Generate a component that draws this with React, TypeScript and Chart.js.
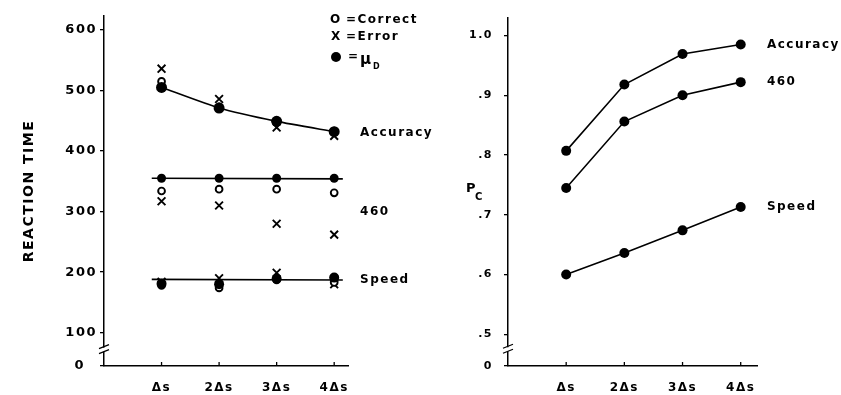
import React, { useEffect, useRef } from 'react';
import { Chart, registerables } from 'chart.js';
Chart.register(...registerables);

// ---------- data ----------
const categories = ['Δs', '2Δs', '3Δs', '4Δs'];
const xPositions = [1, 2, 3, 4];

// Left panel: reaction time (ms)
const rtTicks = [100, 200, 300, 400, 500, 600];
const rtBreakValue = 45; // axis origin, labelled "0"
const accMuD = [505, 471, 449, 432];
const accCorrect = [515, 473, 450, 433];
const accError = [536, 486, 439, 425];
const m460MuD = [355, 355, 355, 355];
const m460Correct = [334, 337, 337, 331];
const m460Error = [317, 310, 280, 262];
const speedMuD = [181, 180, 189, 191];
const speedCorrect = [178, 174, 187, 183];
const speedError = [184, 190, 199, 180];
const fitSpanX = [0.83, 4.15];
const m460Fit = [355, 354];
const speedFit = [188, 187];
const rtLabelValues = [430, 300, 188]; // Accuracy, 460, Speed

// Right panel: proportion correct
const pcTicks = [0.5, 0.6, 0.7, 0.8, 0.9, 1.0];
const pcTickLabels = ['.5', '.6', '.7', '.8', '.9', '1.0'];
const pcBreakValue = 0.447; // axis origin, labelled "0"
const pcAccuracy = [0.807, 0.918, 0.969, 0.985];
const pc460 = [0.745, 0.856, 0.9, 0.922];
const pcSpeed = [0.6, 0.636, 0.674, 0.713];
const pcLabelValues = [0.985, 0.922, 0.713];

const seriesNames = ['Accuracy', '460', 'Speed'];
const labelX = 4.45;

// ---------- helpers ----------
const FONT = '"DejaVu Sans", sans-serif';
const xy = (arr: number[]) => arr.map((y, i) => ({ x: xPositions[i], y }));

function decorPlugin(opts: any) {
  return {
    id: 'decor',
    beforeDraw(chart: any) {
      (chart.ctx as any).letterSpacing = '1.5px';
    },
    afterDraw(chart: any) {
      const ctx = chart.ctx;
      const xs = chart.scales.x;
      const ys = chart.scales.y;
      const area = chart.chartArea;
      ctx.save();
      ctx.strokeStyle = '#000';
      ctx.fillStyle = '#000';
      ctx.lineWidth = 1.3;
      // upward x ticks
      xPositions.forEach((v) => {
        const px = xs.getPixelForValue(v);
        ctx.beginPath();
        ctx.moveTo(px, area.bottom);
        ctx.lineTo(px, area.bottom - 4);
        ctx.stroke();
      });
      // axis break
      const by = ys.getPixelForValue(opts.breakAt);
      const ax = area.left;
      ctx.fillStyle = '#fff';
      ctx.fillRect(ax - 1.5, by - 2, 3, 4);
      ctx.beginPath();
      ctx.moveTo(ax - 5, by - 1);
      ctx.lineTo(ax + 5, by - 5);
      ctx.moveTo(ax - 5, by + 4);
      ctx.lineTo(ax + 5, by);
      ctx.stroke();
      ctx.fillStyle = '#000';
      // series labels
      ctx.font = `bold 12px ${FONT}`;
      ctx.textAlign = 'left';
      ctx.textBaseline = 'middle';
      opts.labels.forEach((v: number, i: number) => {
        ctx.fillText(seriesNames[i], xs.getPixelForValue(labelX), ys.getPixelForValue(v));
      });
      if (opts.legend) {
        ctx.font = `bold 12px ${FONT}`;
        ctx.fillText('O', 330, 20);
        ctx.fillText('=Correct', 346, 20);
        ctx.fillText('X', 331, 37);
        ctx.fillText('=Error', 346, 37);
        ctx.beginPath();
        ctx.arc(336, 57, 5, 0, Math.PI * 2);
        ctx.fill();
        ctx.fillText('=', 348, 57);
        ctx.font = `bold 15px ${FONT}`;
        ctx.fillText('μ', 360, 60);
        ctx.font = `bold 8px ${FONT}`;
        ctx.fillText('D', 373, 67);
      }
      if (opts.pc) {
        ctx.font = `bold 13px ${FONT}`;
        ctx.fillText('P', 46, 189);
        ctx.font = `bold 10px ${FONT}`;
        ctx.fillText('C', 55, 197);
      }
      ctx.restore();
    },
  };
}

const black = '#000';
const filled = (data: any[], r: number) => ({
  data,
  showLine: false,
  pointRadius: r,
  pointBackgroundColor: black,
  pointBorderWidth: 0,
  borderColor: black,
});
const open = (data: any[]) => ({
  data,
  showLine: false,
  pointStyle: 'circle',
  pointRadius: 3.4,
  pointBorderWidth: 1.9,
  pointBorderColor: black,
  pointBackgroundColor: '#fff',
});
const cross = (data: any[]) => ({
  data,
  showLine: false,
  pointStyle: 'crossRot',
  pointRadius: 5.5,
  pointBorderWidth: 1.9,
  pointBorderColor: black,
});
const fit = (ys: number[]) => ({
  data: [
    { x: fitSpanX[0], y: ys[0] },
    { x: fitSpanX[1], y: ys[1] },
  ],
  showLine: true,
  pointRadius: 0,
  borderColor: black,
  borderWidth: 1.6,
});

function xScale(max: number) {
  return {
    type: 'linear',
    min: 0,
    max,
    afterBuildTicks: (s: any) => {
      s.ticks = xPositions.map((v) => ({ value: v }));
    },
    afterFit: (s: any) => {
      s.height = 29;
    },
    ticks: {
      callback: (v: number) => categories[Math.round(v) - 1],
      font: { family: FONT, size: 12, weight: 'bold' },
      color: black,
      padding: 15,
      maxRotation: 0,
    },
    grid: { display: false, drawTicks: false },
    border: { display: true, color: black, width: 1.5 },
  };
}

function leftConfig(): any {
  return {
    type: 'scatter',
    data: {
      datasets: [
        { ...filled(xy(accMuD), 5.5), showLine: true, tension: 0.2, borderWidth: 1.6 },
        filled(xy(m460MuD), 4.5),
        filled(xy(speedMuD), 5),
        fit(m460Fit),
        fit(speedFit),
        open(xy(accCorrect)),
        open(xy(m460Correct)),
        open(xy(speedCorrect)),
        cross(xy(accError)),
        cross(xy(m460Error)),
        cross(xy(speedError)),
      ],
    },
    options: {
      responsive: false,
      animation: false,
      layout: { padding: { left: 0, right: 92, top: 16, bottom: 0 } },
      plugins: { legend: { display: false }, tooltip: { enabled: false } },
      scales: {
        x: xScale(4.24),
        y: {
          type: 'linear',
          min: rtBreakValue,
          max: 623,
          afterBuildTicks: (s: any) => {
            s.ticks = [rtBreakValue, ...rtTicks].map((v) => ({ value: v }));
          },
          afterFit: (s: any) => {
            s.width = 104;
          },
          ticks: {
            callback: (v: number) => (v === rtBreakValue ? '0  ' : String(v)),
            font: { family: FONT, size: 13, weight: 'bold' },
            color: black,
            padding: 3,
          },
          grid: { drawOnChartArea: false, drawTicks: true, tickLength: 4, color: black, lineWidth: 1.3 },
          border: { display: true, color: black, width: 1.5 },
          title: {
            display: true,
            text: 'REACTION TIME',
            color: black,
            font: { family: FONT, size: 14, weight: 'bold' },
            padding: { top: 21, bottom: 0 },
          },
        },
      },
    },
    plugins: [decorPlugin({ breakAt: 72, labels: rtLabelValues, legend: true })],
  };
}

function rightConfig(): any {
  const line = (arr: number[]) => ({
    ...filled(xy(arr), 5),
    showLine: true,
    tension: 0,
    borderWidth: 1.6,
  });
  return {
    type: 'scatter',
    data: { datasets: [line(pcAccuracy), line(pc460), line(pcSpeed)] },
    options: {
      responsive: false,
      animation: false,
      layout: { padding: { left: 0, right: 84, top: 16, bottom: 0 } },
      plugins: { legend: { display: false }, tooltip: { enabled: false } },
      scales: {
        x: xScale(4.28),
        y: {
          type: 'linear',
          min: pcBreakValue,
          max: 1.03,
          afterBuildTicks: (s: any) => {
            s.ticks = [pcBreakValue, ...pcTicks].map((v) => ({ value: v }));
          },
          afterFit: (s: any) => {
            s.width = 88;
          },
          ticks: {
            callback: (v: number) => {
              if (v === pcBreakValue) return '0';
              const i = pcTicks.findIndex((t) => Math.abs(t - v) < 1e-6);
              return i >= 0 ? pcTickLabels[i] : '';
            },
            font: { family: FONT, size: 11, weight: 'bold' },
            color: black,
            padding: 11,
          },
          grid: { drawOnChartArea: false, drawTicks: true, tickLength: 4, color: black, lineWidth: 1.3 },
          border: { display: true, color: black, width: 1.5 },
        },
      },
    },
    plugins: [decorPlugin({ breakAt: 0.475, labels: pcLabelValues, legend: false, pc: true })],
  };
}

function ChartCanvas({ left, width, make }: { left: number; width: number; make: () => any }) {
  const ref = useRef<HTMLCanvasElement | null>(null);
  useEffect(() => {
    if (!ref.current) return;
    const c = new Chart(ref.current, make());
    return () => c.destroy();
  }, []);
  return (
    <canvas
      ref={ref}
      width={width}
      height={395}
      style={{ position: 'absolute', left, top: 0, width, height: 395 }}
    />
  );
}

export default function App() {
  return (
    <div style={{ position: 'fixed', left: 0, top: 0, width: 841, height: 395, background: '#fff' }}>
      <ChartCanvas left={420} width={421} make={rightConfig} />
      <ChartCanvas left={0} width={440} make={leftConfig} />
    </div>
  );
}
